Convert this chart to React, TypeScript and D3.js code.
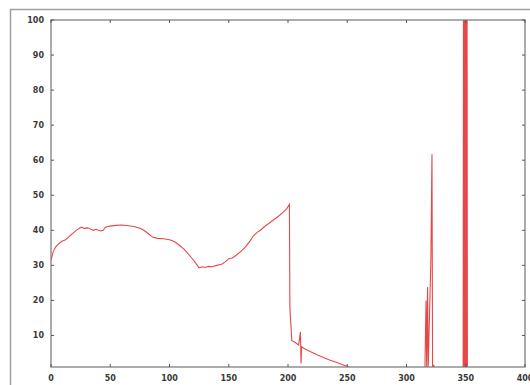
import React from 'react';
import * as d3 from 'd3';

// series (x = sample index, y = value)
const xs = [
  0, 1, 2, 4, 6, 8, 10, 12, 14, 16, 18, 20, 22, 24, 26, 28, 30, 32, 34, 36, 38, 40, 42, 44, 46, 48,
  50, 55, 60, 65, 70, 75, 78, 80, 83, 86, 90, 95, 100, 104, 108, 112, 116, 120, 123, 125, 128, 130,
  133, 136, 140, 144, 147, 150, 153, 156, 160, 164, 168, 171, 174, 177, 180, 184, 188, 192, 196, 199,
  201.2, 201.6, 203.2, 206, 209, 210.5, 211, 211.5, 214, 217, 220, 225, 230, 235, 240, 245, 248, 252, 256,
  310, 315.5, 316.5, 317, 317.8, 318.3, 320.6, 321.5, 322, 323, 323.5,
  347.8, 348.1, 348.4, 348.7, 349, 349.3, 349.6, 349.9, 350.2, 350.5, 350.8, 351.1, 351.4, 360,
];
const ys = [
  31.5, 32.8, 34, 35.3, 36, 36.6, 37, 37.2, 37.8, 38.5, 39, 39.6, 40.2, 40.6, 40.9, 40.5, 40.7, 40.6, 40.2, 40, 40.3, 40, 39.8, 40, 40.9, 41.1,
  41.2, 41.4, 41.5, 41.3, 41.1, 40.6, 40.1, 39.6, 38.8, 38, 37.7, 37.6, 37.3, 36.8, 35.8, 34.7, 33.2, 31.6, 30.2, 29.3, 29.6, 29.4,
  29.7, 29.6, 30, 30.3, 31, 31.9, 32.1, 32.8, 33.9, 35.2, 37, 38.5, 39.4, 40.1, 41, 42, 43, 44, 45.2, 46.2,
  47.4, 18, 8.6, 8, 7.3, 11, 2, 6.8, 6.2, 5.7, 5.2, 4.4, 3.7, 3, 2.4, 1.8, 1.4, 0.9, 0,
  0, 0, 20, 0.5, 23.8, 0.5, 32, 61.7, 0.5, 1.6, 0,
  0, 120, 0, 120, 0, 120, 0, 120, 0, 120, 0, 120, 0, 0,
];
const xTicks = [0, 50, 100, 150, 200, 250, 300, 350, 400];
const yTicks = [10, 20, 30, 40, 50, 60, 70, 80, 90, 100];

const W = 530;
const H = 385;
const plot = { left: 51, right: 525, top: 20, bottom: 367 };

const App = () => {
  const x = d3.scaleLinear().domain([0, 400]).range([plot.left, plot.right]);
  const y = d3.scaleLinear().domain([1, 100]).range([plot.bottom, plot.top]);

  const data = xs.map((v, i) => [v, ys[i]] as [number, number]);
  const line = d3.line<[number, number]>()
    .x(d => x(d[0]))
    .y(d => y(d[1]));

  const tick = 3;
  const labelStyle = {
    fontFamily: 'DejaVu Sans',
    fontWeight: 'bold' as const,
    fontSize: 8,
    fill: '#3a3a3a',
  };

  return (
    <svg width={W} height={H} style={{ position: 'absolute', left: 0, top: 0, background: '#fff' }}>
      {/* outer frame */}
      <path d={`M10.5,${H} V9.5 H${W}`} fill="none" stroke="#a0a0a0" strokeWidth={1.5} />

      <defs>
        <clipPath id="plotClip">
          <rect x={plot.left} y={plot.top} width={plot.right - plot.left} height={plot.bottom - plot.top} />
        </clipPath>
      </defs>

      {/* DATA */}
      <path d={line(data) ?? ''} fill="none" stroke="#e64848" strokeWidth={1.1} clipPath="url(#plotClip)" />

      {/* BORDER */}
      <rect
        x={plot.left}
        y={plot.top}
        width={plot.right - plot.left}
        height={plot.bottom - plot.top}
        fill="none"
        stroke="#808080"
        strokeWidth={1.3}
      />

      {/* X TICKS */}
      {xTicks.map(t => (
        <g key={'x' + t}>
          <line x1={x(t)} x2={x(t)} y1={plot.bottom} y2={plot.bottom - tick} stroke="#555" />
          <line x1={x(t)} x2={x(t)} y1={plot.top} y2={plot.top + tick} stroke="#555" />
          <text x={x(t)} y={381} textAnchor="middle" {...labelStyle}>{t}</text>
        </g>
      ))}

      {/* Y TICKS */}
      {yTicks.map(t => (
        <g key={'y' + t}>
          <line x1={plot.left} x2={plot.left + tick} y1={y(t)} y2={y(t)} stroke="#555" />
          <line x1={plot.right} x2={plot.right - tick} y1={y(t)} y2={y(t)} stroke="#555" />
          <text x={44} y={y(t)} dy="0.35em" textAnchor="end" {...labelStyle}>{t}</text>
        </g>
      ))}
    </svg>
  );
};

export default App;
